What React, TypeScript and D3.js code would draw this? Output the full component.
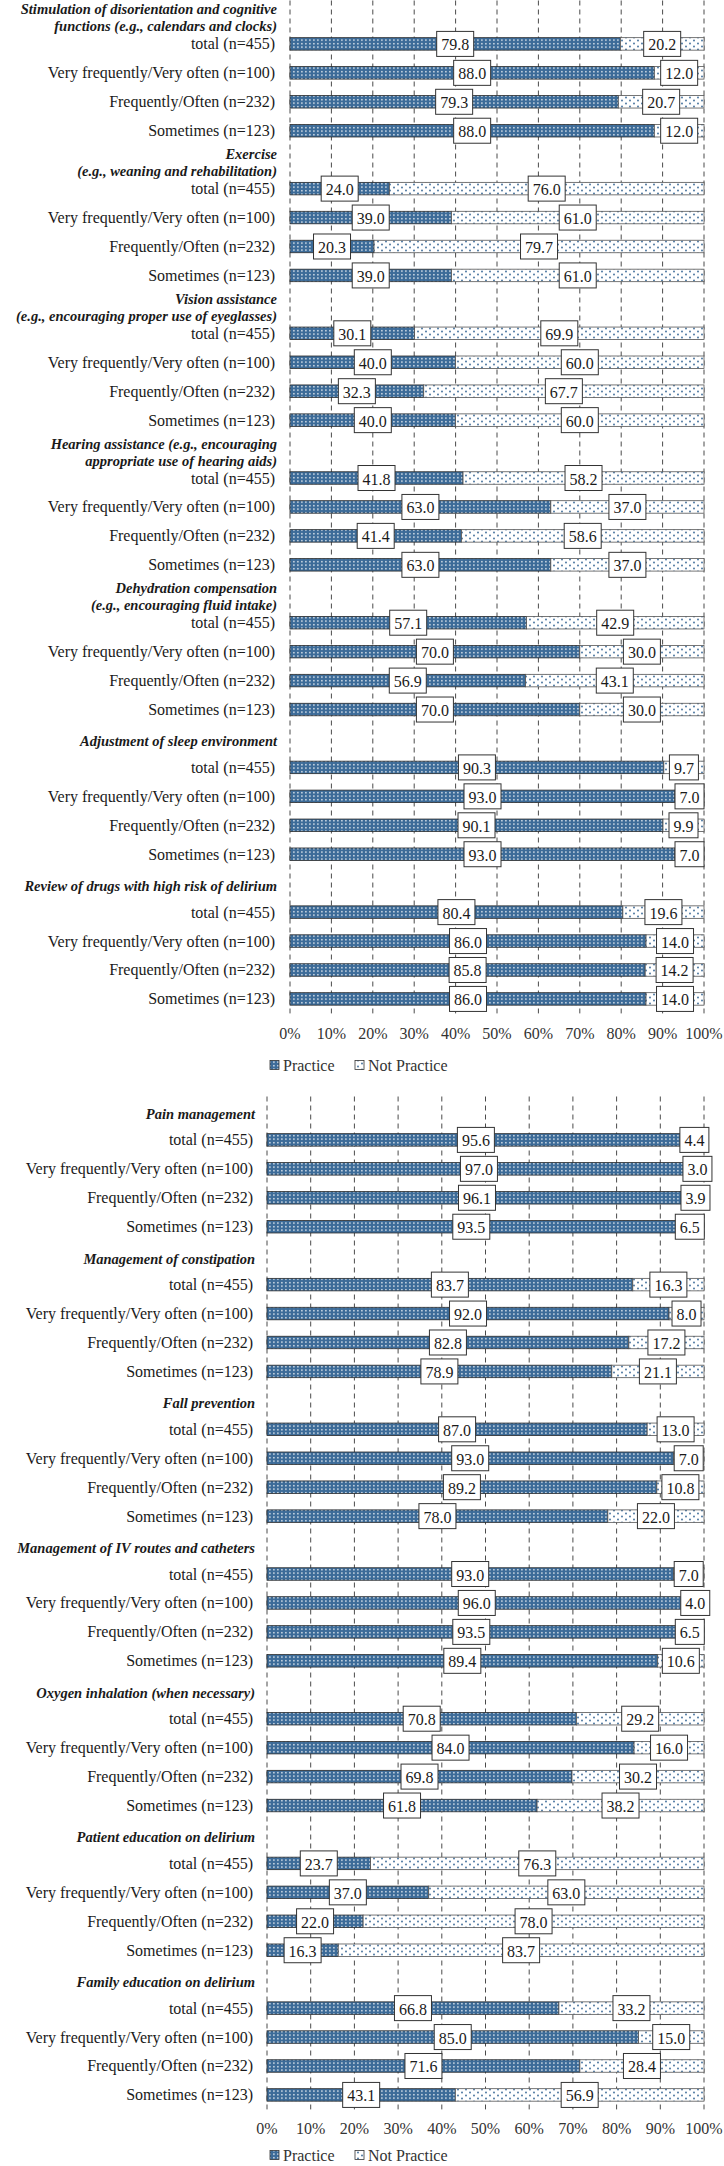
import React from "react";
import * as d3 from "d3";

const groups = [
  "total (n=455)",
  "Very frequently/Very often (n=100)",
  "Frequently/Often (n=232)",
  "Sometimes (n=123)",
];

const headers1: string[][] = [
  ["Stimulation of disorientation and cognitive", "functions (e.g., calendars and clocks)"],
  ["Exercise", "(e.g., weaning and rehabilitation)"],
  ["Vision assistance", "(e.g., encouraging proper use of eyeglasses)"],
  ["Hearing assistance (e.g., encouraging", "appropriate use of hearing aids)"],
  ["Dehydration compensation", "(e.g., encouraging fluid intake)"],
  ["Adjustment of sleep environment"],
  ["Review of drugs with high risk of delirium"],
];
const practice1 = [
  [79.8, 88.0, 79.3, 88.0],
  [24.0, 39.0, 20.3, 39.0],
  [30.1, 40.0, 32.3, 40.0],
  [41.8, 63.0, 41.4, 63.0],
  [57.1, 70.0, 56.9, 70.0],
  [90.3, 93.0, 90.1, 93.0],
  [80.4, 86.0, 85.8, 86.0],
];
const notPractice1 = [
  [20.2, 12.0, 20.7, 12.0],
  [76.0, 61.0, 79.7, 61.0],
  [69.9, 60.0, 67.7, 60.0],
  [58.2, 37.0, 58.6, 37.0],
  [42.9, 30.0, 43.1, 30.0],
  [9.7, 7.0, 9.9, 7.0],
  [19.6, 14.0, 14.2, 14.0],
];

const headers2: string[][] = [
  ["Pain management"],
  ["Management of constipation"],
  ["Fall prevention"],
  ["Management of IV routes and catheters"],
  ["Oxygen inhalation (when necessary)"],
  ["Patient education on delirium"],
  ["Family education on delirium"],
];
const practice2 = [
  [95.6, 97.0, 96.1, 93.5],
  [83.7, 92.0, 82.8, 78.9],
  [87.0, 93.0, 89.2, 78.0],
  [93.0, 96.0, 93.5, 89.4],
  [70.8, 84.0, 69.8, 61.8],
  [23.7, 37.0, 22.0, 16.3],
  [66.8, 85.0, 71.6, 43.1],
];
const notPractice2 = [
  [4.4, 3.0, 3.9, 6.5],
  [16.3, 8.0, 17.2, 21.1],
  [13.0, 7.0, 10.8, 22.0],
  [7.0, 4.0, 6.5, 10.6],
  [29.2, 16.0, 30.2, 38.2],
  [76.3, 63.0, 78.0, 83.7],
  [33.2, 15.0, 28.4, 56.9],
];

const ticks = [0, 10, 20, 30, 40, 50, 60, 70, 80, 90, 100];
const legendItems = ["Practice", "Not Practice"];

const FONT = "'Liberation Serif', 'Times New Roman', serif";
const BLUE = "#3C6B98";

function labelWidth(s: string) {
  let w = 0;
  for (const c of s) w += c === "." ? 4 : 8;
  return w + 9;
}

type PanelProps = {
  headers: string[][];
  practice: number[][];
  notPractice: number[][];
  x0: number;
  x1: number;
  top: number;
  axisY: number;
  legendY: number;
  labelRight: number;
};

function Panel({ headers, practice, notPractice, x0, x1, top, axisY, legendY, labelRight }: PanelProps) {
  const slot = 28.94;
  const nSlots = headers.length * 5;
  const x = d3.scaleLinear().domain([0, 100]).range([x0, x1]);
  const y = d3
    .scaleBand<number>()
    .domain(d3.range(nSlots))
    .range([top, top + nSlots * slot])
    .padding(0);
  const bh = 12.5;
  const cy = (k: number) => (y(k) as number) + y.bandwidth() / 2;
  const bottom = top + nSlots * slot;

  return (
    <g>
      {ticks.map((t) => (
        <line
          key={"g" + t}
          x1={x(t)}
          x2={x(t)}
          y1={top}
          y2={bottom}
          stroke="#4a4a4a"
          strokeWidth={1}
          strokeDasharray="5,4"
        />
      ))}
      {headers.map((h, ci) => {
        const c = cy(ci * 5) + 3;
        return (
          <text
            key={"h" + ci}
            x={labelRight + 2}
            textAnchor="end"
            fontFamily={FONT}
            fontWeight="bold"
            fontStyle="italic"
            fontSize={14.5}
            fill="#1a1a1a"
          >
            {h.map((line, li) => (
              <tspan
                key={li}
                x={labelRight + 2}
                y={c - ((h.length - 1) * 17) / 2 + li * 17}
                dominantBaseline="central"
              >
                {line}
              </tspan>
            ))}
          </text>
        );
      })}
      {headers.map((_, ci) =>
        groups.map((g, gi) => {
          const k = ci * 5 + gi + 1;
          const yc = cy(k);
          const p = practice[ci][gi];
          const np = notPractice[ci][gi];
          const pStr = p.toFixed(1);
          const npStr = np.toFixed(1);
          const pc = x(p / 2);
          const npc = x(p + np / 2);
          const pw = labelWidth(pStr);
          const npw = labelWidth(npStr);
          return (
            <g key={"r" + ci + "-" + gi}>
              <text
                x={labelRight}
                y={yc}
                textAnchor="end"
                dominantBaseline="central"
                fontFamily={FONT}
                fontSize={16}
                fill="#1a1a1a"
              >
                {g}
              </text>
              <rect
                x={x(0)}
                y={yc - bh / 2}
                width={x(p) - x(0)}
                height={bh}
                fill="url(#patPractice)"
                stroke="#2b2b2b"
                strokeWidth={0.8}
              />
              <rect
                x={x(p)}
                y={yc - bh / 2}
                width={x(p + np) - x(p)}
                height={bh}
                fill="url(#patNot)"
                stroke="#555"
                strokeWidth={0.8}
              />
              <rect
                x={pc - pw / 2}
                y={yc - 12.5}
                width={pw}
                height={25}
                fill="#fff"
                stroke="#333"
                strokeWidth={1}
              />
              <text
                x={pc}
                y={yc + 1}
                textAnchor="middle"
                dominantBaseline="central"
                fontFamily={FONT}
                fontSize={16}
                fill="#1a1a1a"
              >
                {pStr}
              </text>
              <rect
                x={npc - npw / 2}
                y={yc - 12.5}
                width={npw}
                height={25}
                fill="#fff"
                stroke="#333"
                strokeWidth={1}
              />
              <text
                x={npc}
                y={yc + 1}
                textAnchor="middle"
                dominantBaseline="central"
                fontFamily={FONT}
                fontSize={16}
                fill="#1a1a1a"
              >
                {npStr}
              </text>
            </g>
          );
        })
      )}
      {ticks.map((t) => (
        <text
          key={"t" + t}
          x={x(t)}
          y={axisY}
          textAnchor="middle"
          dominantBaseline="central"
          fontFamily={FONT}
          fontSize={16}
          fill="#333"
        >
          {t + "%"}
        </text>
      ))}
      {legendItems.map((item, i) => {
        const lx = i === 0 ? 270 : 355;
        return (
          <g key={"l" + i}>
            <rect
              x={lx}
              y={legendY - 4.5}
              width={9}
              height={9}
              fill={i === 0 ? "url(#patPractice)" : "url(#patNot)"}
              stroke="#333"
              strokeWidth={0.8}
            />
            <text
              x={lx + 13}
              y={legendY}
              dominantBaseline="central"
              fontFamily={FONT}
              fontSize={16}
              fill="#333"
            >
              {item}
            </text>
          </g>
        );
      })}
    </g>
  );
}

export default function App() {
  return (
    <svg
      width={724}
      height={2166}
      viewBox="0 0 724 2166"
      style={{ position: "absolute", left: 0, top: 0, background: "#fff" }}
    >
      <defs>
        <pattern id="patPractice" patternUnits="userSpaceOnUse" width={4} height={3.5}>
          <rect width={4} height={3.5} fill={BLUE} />
          <rect x={1.2} y={1} width={1.4} height={1.3} fill="#ffffff" />
        </pattern>
        <pattern id="patNot" patternUnits="userSpaceOnUse" width={8} height={6}>
          <rect width={8} height={6} fill="#ffffff" />
          <circle cx={2} cy={1.5} r={0.9} fill={BLUE} />
          <circle cx={6} cy={4.5} r={0.9} fill={BLUE} />
        </pattern>
      </defs>
      <rect width={724} height={2166} fill="#fff" />
      <Panel
        headers={headers1}
        practice={practice1}
        notPractice={notPractice1}
        x0={290}
        x1={704}
        top={0.5}
        axisY={1033}
        legendY={1065}
        labelRight={275}
      />
      <Panel
        headers={headers2}
        practice={practice2}
        notPractice={notPractice2}
        x0={267}
        x1={704}
        top={1096.5}
        axisY={2128}
        legendY={2155}
        labelRight={253}
      />
    </svg>
  );
}
